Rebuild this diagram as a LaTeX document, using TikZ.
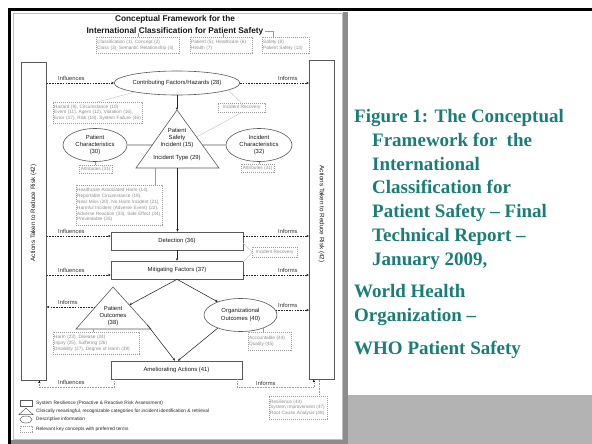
\documentclass[tikz,border=0pt]{standalone}
\usepackage{fontspec}
\setmainfont{Liberation Sans}
\newfontfamily\capfont{Liberation Serif}
\usetikzlibrary{arrows.meta,shapes.geometric,calc}
\definecolor{capteal}{HTML}{1A7D78}
\definecolor{gtxt}{HTML}{8C8C8C}
\definecolor{gedge}{HTML}{9A9A9A}
\definecolor{shadegray}{HTML}{B3B3B3}
\tikzset{
 lab/.style={font=\fontsize{5.9}{7.2}\selectfont, text=black!90, align=center, inner sep=0pt},
 sbox/.style={draw=black!65, line width=0.6pt, lab, rectangle},
 sell/.style={draw=black!65, line width=0.6pt, lab, ellipse},
 gbox/.style={draw=gedge, dash pattern=on 1.2pt off 0.8pt, line width=0.45pt, font=\fontsize{4.7}{5.8}\selectfont, text=gtxt, align=left, inner xsep=1pt, inner ysep=0.5pt, anchor=north west},
 gcbox/.style={gbox, align=center},
 tri/.style={draw=black!65, line width=0.6pt},
 ar/.style={-{Stealth[length=2.6pt,width=2.4pt]}, line width=0.55pt, draw=black!85},
 dar/.style={ar, dash pattern=on 1.6pt off 1.1pt},
 dotar/.style={-{Stealth[length=2.6pt,width=2.4pt,color=black]}, line width=0.5pt, draw=gedge, dash pattern=on 0.8pt off 0.8pt},
 gln/.style={draw=black!22, line width=0.45pt},
 tk/.style={draw=gedge, line width=0.45pt},
 arlbl/.style={font=\fontsize{5.8}{7}\selectfont, text=black!80, inner sep=0pt, anchor=base west},
 leg/.style={font=\fontsize{4.8}{6}\selectfont, text=black!85, inner sep=0pt, anchor=west},
 captxt/.style={font=\capfont\bfseries\fontsize{19}{24}\selectfont, text=capteal, inner sep=0pt, anchor=base west},
}
\begin{document}
\begin{tikzpicture}[x=1pt,y=-1pt]
\useasboundingbox (0,0) rectangle (592,444);
\fill[white] (0,0) rectangle (592,444);
% frame
\fill[shadegray] (347,395) rectangle (592,444);
\fill[black!45] (343,12) rectangle (348,444);
\fill[black!45] (11,440) rectangle (348,444);
\fill[black] (8,8) rectangle (592,11);
\fill[black] (8,8) rectangle (11,444);
\draw[black!25, line width=0.6pt] (13,13) rectangle (342,439);

% title and top concept boxes
\node[font=\fontsize{8.3}{12}\selectfont\bfseries, text=black!90, align=center, inner sep=0pt] (title) at (175,25) {Conceptual Framework for the\\International Classification for Patient Safety};
\node[gbox, text width=81pt, minimum height=16pt] (k1) at (96,37) {Classification (1), Concept (2)\\Class (3), Semantic Relationship (4)};
\node[gbox, text width=60pt, minimum height=16pt] (k2) at (190,37) {Patient (5), Healthcare (6)\\Health (7)};
\node[gbox, text width=45pt, minimum height=16pt] (k3) at (262,37) {Safety (8)\\Patient Safety (13)};
\coordinate (t1) at (138,33);
\coordinate (t2) at (223,33);
\coordinate (t3) at (265,31);
\draw[tk] (t1) -- (t1 |- k1.north);
\draw[tk] (t2) -- (t2 |- k2.north);
\draw[tk] (t3) -| ($(k3.north west)+(11,0)$);

% side boxes
\node[sbox, minimum width=25pt, minimum height=318pt, anchor=north west] (L) at (21,62) {};
\node[sbox, minimum width=25pt, minimum height=319pt, anchor=north west] (R) at (309,60) {};
\node[lab, font=\fontsize{6.3}{7}\selectfont, rotate=90] (Lt) at (33.5,213) {Actions Taken to Reduce Risk (42)};
\node[lab, font=\fontsize{6.3}{7}\selectfont, rotate=-90] (Rt) at (321.5,214) {Actions Taken to Reduce Risk (42)};

% contributing factors
\node[sell, minimum width=112pt, minimum height=24pt] (cf) at (177,83) {Contributing Factors/Hazards (28)};
\draw[dar] (L.east |- cf.west) -- (cf.west);
\node[arlbl] (li1) at (58,80.5) {Influences};
\draw[dar] (cf.east) -- (cf.east -| R.west);
\node[arlbl] (lo1) at (278,80.5) {Informs};
\node[gbox, text width=87pt, minimum height=21pt] (hz) at (53,102) {Hazard (9), Circumstance (10)\\Event (11), Agent (12), Violation (16),\\Error (17), Risk (18), System Failure (46)};
\draw[gln] (cf.-168) -- (hz.north);

% patient safety incident triangle
\coordinate (PSa) at (177,110);
\coordinate (PSl) at (136,168);
\coordinate (PSr) at (219,168);
\draw[tri] (PSa) -- (PSl) -- (PSr) -- cycle;
\draw[ar] (cf.south) -- (PSa);
\node[lab] (pst) at (177,138) {Patient\\Safety\\Incident (15)};
\node[lab] (itt) at (177,158) {Incident Type (29)};

% characteristics
\node[sell, minimum width=64pt, minimum height=33pt] (pc) at (95,145) {Patient\\Characteristics\\(30)};
\path (PSa) -- (PSl) coordinate[pos=0.603] (tL1);
\draw[tri] (pc.east) -- (tL1);
\node[sell, minimum width=66pt, minimum height=33pt] (ic) at (259,145) {Incident\\Characteristics\\(32)};
\path (PSa) -- (PSr) coordinate[pos=0.603] (tR1) coordinate[pos=0.466] (tR2);
\draw[tri] (tR1) -- (ic.west);
\node[gcbox, minimum width=33pt, minimum height=8pt] (at1) at (79,165) {Attributes (31)};
\draw[tk] (pc.south) -- (pc.south |- at1.north);
\node[gcbox, minimum width=33pt, minimum height=8pt] (at2) at (241,164) {Attributes (31)};
\draw[tk] (ic.south) -- (ic.south |- at2.north);

% incident recovery (upper)
\node[gcbox, minimum width=47pt, minimum height=9pt] (ir1) at (218,103) {Incident Recovery};
\draw[gln] (cf.-8) -- (ir1.north);
\draw[gln] (ir1.south) -- (tR2);

% incident types box
\node[gbox, text width=84pt, minimum height=40pt] (hb) at (76,185) {Healthcare Associated Harm (14),\\Reportable Circumstance (19),\\Near Miss (20), No Harm Incident (21),\\Harmful Incident (Adverse Event) (22),\\Adverse Reaction (33), Side Effect (34)\\Preventable (35)};
\path (PSl) -- (PSr) coordinate[pos=0.23] (tb1) coordinate[pos=0.5] (tbm);
\draw[tk] (tb1) -- (tb1 |- hb.north);

% detection & mitigation
\node[sbox, minimum width=132pt, minimum height=18pt] (det) at (177,241) {Detection (36)};
\draw[ar] (tbm) -- (tbm |- det.north);
\node[sbox, minimum width=132pt, minimum height=18pt] (mit) at (177,270) {Mitigating Factors (37)};
\draw[ar] (det.south) -- (mit.north);
\coordinate (dI) at ([yshift=5pt]det.west);
\coordinate (dO) at ([yshift=5pt]det.east);
\coordinate (mI) at ([yshift=-5pt]mit.west);
\coordinate (mO) at ([yshift=-5pt]mit.east);
\draw[dar] (L.east |- dI) -- (dI);
\draw[dar] (dO) -- (dO -| R.west);
\draw[dar] (L.east |- mI) -- (mI);
\draw[dar] (mO) -- (mO -| R.west);
\node[arlbl] at (58,233.5) {Influences};
\node[arlbl] at (278,233.5) {Informs};
\node[arlbl] at (58,272) {Influences};
\node[arlbl] at (278,272) {Informs};
\node[gcbox, minimum width=45pt, minimum height=10pt] (ir2) at (252,247) {Incident Recovery};
\draw[gln] ([yshift=-2pt]det.east) -- (ir2.west);
\draw[gln] ([yshift=8pt]mit.east) -- (ir2.west);

% outcomes
\coordinate (POa) at (113,287);
\coordinate (POl) at (76,329);
\coordinate (POr) at (151,329);
\draw[tri] (POa) -- (POl) -- (POr) -- cycle;
\node[lab] (pot) at (113,316) {Patient\\Outcomes\\(38)};
\path (POa) -- (POl) coordinate[pos=0.476] (poL);
\path (POa) -- (POr) coordinate[pos=0.43] (poR1) coordinate[pos=0.9] (poR2);
\draw[dar] (poL) -- (poL -| L.east);
\node[arlbl] at (58,304.5) {Informs};
\node[sell, minimum width=73pt, minimum height=33pt] (oo) at (240.5,315) {Organizational\\Outcomes (40)};
\draw[dar] (oo.8) -- (oo.8 -| R.west);
\node[arlbl] at (278,307.5) {Informs};
\node[gbox, text width=84pt, minimum height=22pt] (pob) at (53,332) {Harm (23), Disease (24)\\Injury (25), Suffering (26)\\Disability (27), Degree of Harm (39)};
\path (POl) -- (POr) coordinate[pos=0.227] (pbt);
\draw[tk] (pbt) -- (pbt |- pob.north);
\node[gbox, text width=41pt, minimum height=18pt] (aq) at (248,332) {Accountable (44)\\Quality (45)};
\draw[tk] (oo.-30) -- (oo.-30 |- aq.north);

% ameliorating
\node[sbox, minimum width=131pt, minimum height=18pt] (am) at (176.5,370) {Ameliorating Actions (41)};
\draw[ar] (mit.south) -- (poR1);
\draw[ar] (mit.south) -- (oo.150);
\draw[ar] (poR2) -- ([xshift=-1.5pt]am.north);
\draw[ar] (oo.-150) -- ([xshift=1.5pt]am.north);
\coordinate (Lb) at ([xshift=5.5pt]L.south);
\coordinate (amL) at ([xshift=4pt]am.south west);
\draw[dotar] (amL) -- ++(0,8) -| (Lb);
\node[arlbl] at (58,384) {Influences};
\coordinate (Rb) at ([xshift=-8pt]R.south);
\coordinate (amR) at ([xshift=-5pt]am.south east);
\draw[dotar] (amR) -- ++(0,8) -| (Rb);
\node[arlbl] at (256,385) {Informs};
\node[gbox, text width=56pt, minimum height=23pt] (rs) at (269,396) {Resilience (43)\\System Improvement (47)\\Root Cause Analysis (48)};
\coordinate (Rb2) at ([xshift=-2.5pt]R.south);
\draw[tk, dash pattern=on 0.8pt off 0.8pt] (Rb2) -- (Rb2 |- rs.north);

% legend
\node[draw=black!65, line width=0.5pt, minimum width=12pt, minimum height=6pt, inner sep=0pt, anchor=north west] (lg1) at (20,400) {};
\coordinate (lt1) at (26,408);
\coordinate (lt2) at (19,414.5);
\coordinate (lt3) at (33,414.5);
\draw[tri, line width=0.5pt] (lt1) -- (lt2) -- (lt3) -- cycle;
\node[ellipse, draw=black!65, line width=0.5pt, minimum width=12pt, minimum height=7pt, inner sep=0pt] (lg3) at (26,419.5) {};
\node[draw=gedge, dash pattern=on 1.2pt off 0.8pt, line width=0.45pt, minimum width=12pt, minimum height=6pt, inner sep=0pt, anchor=north west] (lg4) at (20,426) {};
\node[leg] (lx1) at (36,403) {System Resilience (Proactive \& Reactive Risk Assessment)};
\node[leg] (lx2) at (36,411.5) {Clinically meaningful, recognizable categories for incident identification \& retrieval};
\node[leg] (lx3) at (36,419.5) {Descriptive information};
\node[leg] (lx4) at (36,429) {Relevant key concepts with preferred terms};

% caption
\node[captxt] (c1) at (354,122) {Figure 1: The Conceptual};
\node[captxt] (c2) at (372,146) {Framework for~ the};
\node[captxt] (c3) at (372,170) {International};
\node[captxt] (c4) at (372,193) {Classification for};
\node[captxt] (c5) at (372,217) {Patient Safety – Final};
\node[captxt] (c6) at (372,241) {Technical Report –};
\node[captxt] (c7) at (372,265) {January 2009,};
\node[captxt] (c8) at (354,297) {World Health};
\node[captxt] (c9) at (354,321) {Organization –};
\node[captxt] (c10) at (354,354) {WHO Patient Safety};
\end{tikzpicture}
\end{document}
